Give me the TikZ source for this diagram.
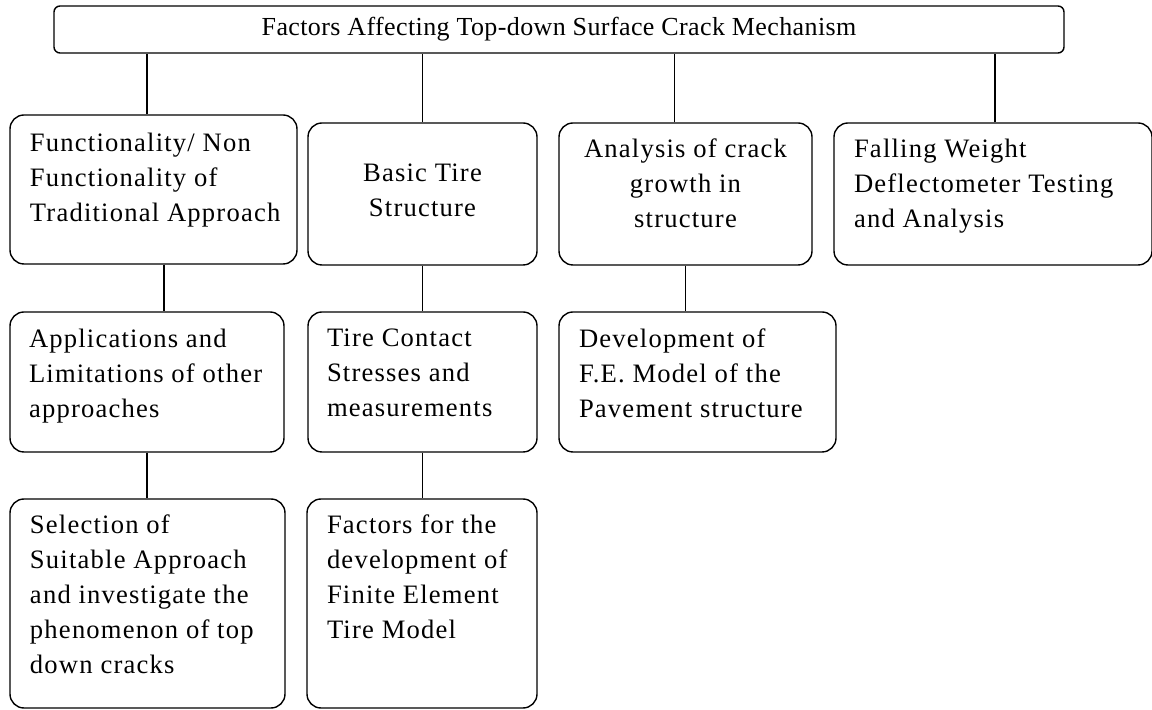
\documentclass[tikz,border=0pt]{standalone}
\usepackage{fontspec}
\setmainfont{Liberation Serif}
\newfontfamily\boxfont[LetterSpace=4.5]{Liberation Serif}
\newfontfamily\headfont[LetterSpace=1.5]{Liberation Serif}
\usetikzlibrary{positioning}
\begin{document}
\begin{tikzpicture}[x=0.5pt, y=-0.5pt, line width=0.7pt,
  blk/.style={draw, rounded corners=7pt, inner sep=0pt},
  txt/.style={inner sep=0pt, align=left, font=\boxfont\fontsize{13.3}{17.5}\selectfont},
  ctxt/.style={txt, align=center}]
\useasboundingbox (0,0) rectangle (1152,710);
\node[blk, rounded corners=3pt, minimum width=505pt, minimum height=23.5pt,
  font=\headfont\fontsize{13}{16}\selectfont] (factors) at (559,29.5) {Factors Affecting Top-down Surface Crack Mechanism};

\node[blk, minimum width=143.5pt, minimum height=74.5pt] (trad) at (153.5,189.5) {};
\node[blk, minimum width=114.5pt, minimum height=71pt] (tire) at (422.5,194) {};
\node[blk, minimum width=126.5pt, minimum height=71pt] (crack) at (685.5,194) {};
\node[blk, minimum width=159pt, minimum height=71pt] (fwd) at (993,194) {};
\node[blk, minimum width=137pt, minimum height=70pt] (apps) at (147,382) {};
\node[blk, minimum width=114.5pt, minimum height=70pt] (contact) at (422.5,382) {};
\node[blk, minimum width=138.5pt, minimum height=70pt] (femodel) at (697.5,382) {};
\node[blk, minimum width=137.5pt, minimum height=104.5pt] (select) at (147.5,603.5) {};
\node[blk, minimum width=115pt, minimum height=104.5pt] (tiremodel) at (422,603.5) {};

\node[txt, below right=8.9pt and 10pt of trad.north west] (tradtxt) {Functionality/ Non\\Functionality of\\Traditional Approach};
\node[ctxt, below=20.4pt of tire.north] (tiretxt) {Basic Tire\\Structure};
\node[ctxt, below=7.9pt of crack.north] (cracktxt) {Analysis of crack\\growth in\\structure};
\node[txt, below right=7.9pt and 10pt of fwd.north west] (fwdtxt) {Falling Weight\\Deflectometer Testing\\and Analysis};
\node[txt, below right=8.4pt and 9.5pt of apps.north west] (appstxt) {Applications and\\Limitations of other\\approaches};
\node[txt, below right=8.4pt and 9.5pt of contact.north west] (contacttxt) {Tire Contact\\Stresses and\\measurements};
\node[txt, below right=8.4pt and 10pt of femodel.north west] (femodeltxt) {Development of\\F.E. Model of the\\Pavement structure};
\node[txt, below right=7.9pt and 10pt of select.north west] (selecttxt) {Selection of\\Suitable Approach\\and investigate the\\phenomenon of top\\down cracks};
\node[txt, below right=7.9pt and 10pt of tiremodel.north west] (tiremodeltxt) {Factors for the\\development of\\Finite Element\\Tire Model};

\draw ([xshift=-3.25pt]trad.north) -- ([xshift=-3.25pt]trad.north |- factors.south);
\draw (tire.north) -- (tire.north |- factors.south);
\draw ([xshift=-5.5pt]crack.north) -- ([xshift=-5.5pt]crack.north |- factors.south);
\draw ([xshift=1pt]fwd.north) -- ([xshift=1pt]fwd.north |- factors.south);
\draw ([xshift=5.25pt]trad.south) -- ([xshift=5.25pt]trad.south |- apps.north);
\draw (tire.south) -- (tire.south |- contact.north);
\draw (crack.south) -- (crack.south |- femodel.north);
\draw (apps.south) -- (apps.south |- select.north);
\draw (contact.south) -- (contact.south |- tiremodel.north);
\end{tikzpicture}
\end{document}
